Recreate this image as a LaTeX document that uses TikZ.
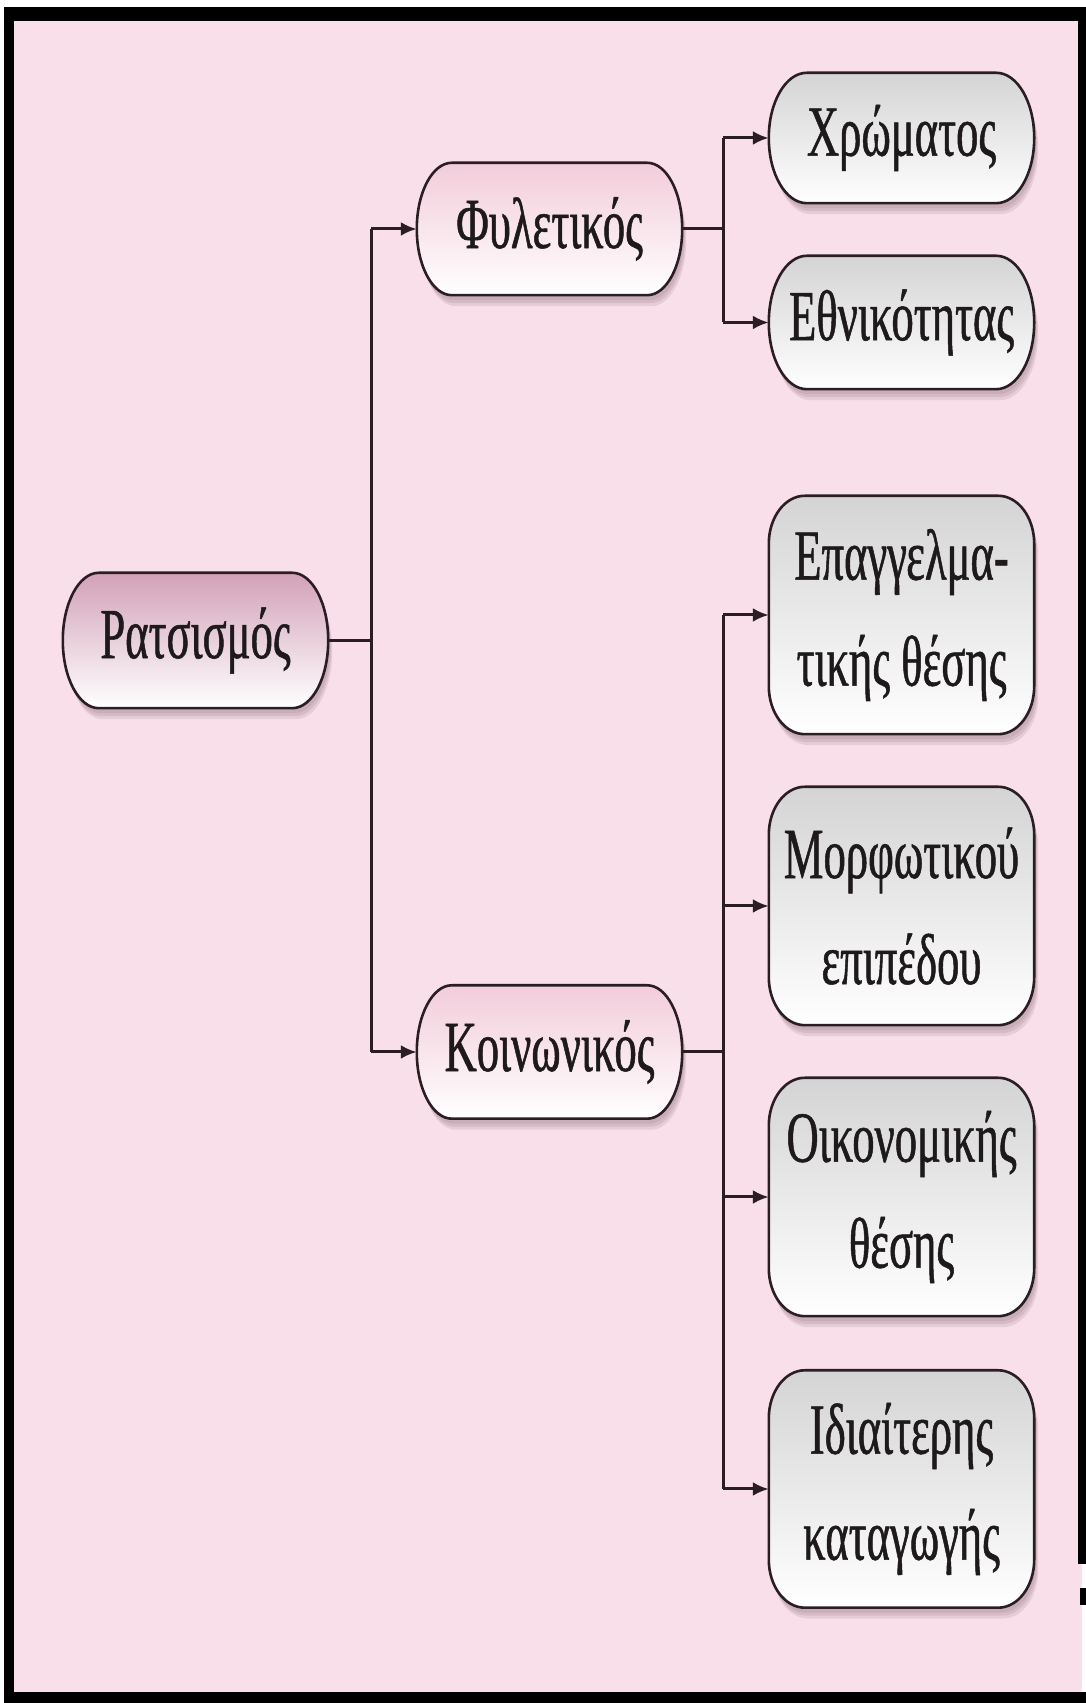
\documentclass[tikz,border=0pt]{standalone}
\usepackage{fontspec}
\setmainfont[FakeStretch=0.62,FakeBold=0.7]{Liberation Serif}
\usetikzlibrary{arrows.meta,calc}
\pgfdeclarelayer{bg}
\pgfdeclarelayer{shapes}
\pgfsetlayers{bg,shapes,main}

\definecolor{pinkbg}{HTML}{F8DFE9}
\definecolor{ink}{HTML}{2A1E24}
\definecolor{txt}{HTML}{1E1A1C}
\definecolor{rootTop}{HTML}{D2A1B8}
\definecolor{midTop}{HTML}{F2CCDA}
\definecolor{leafTop}{HTML}{D4D4D4}
\definecolor{shadowc}{HTML}{7A5A6A}

\tikzset{
  tnode/.style={rectangle, inner sep=0pt, minimum width=265pt, text=txt,
    font=\fontsize{72}{106}\selectfont, align=center},
  conn/.style={draw=ink, line width=3pt},
  arr/.style={conn, -{Latex[length=16pt,width=14pt]}},
  outline/.style={draw=ink, line width=2.6pt},
  softshadow/.style={fill=shadowc, opacity=0.14},
}

\newcommand\pillpath[3]{%
  ([xshift=#2pt]#1.north west) -- ([xshift=-#2pt]#1.north east)
  arc[start angle=90,end angle=0,x radius=#2pt,y radius=#3pt]
  -- ([yshift=#3pt]#1.south east)
  arc[start angle=0,end angle=-90,x radius=#2pt,y radius=#3pt]
  -- ([xshift=#2pt]#1.south west)
  arc[start angle=270,end angle=180,x radius=#2pt,y radius=#3pt]
  -- ([yshift=-#3pt]#1.north west)
  arc[start angle=180,end angle=90,x radius=#2pt,y radius=#3pt] -- cycle}

\newcommand\drawpill[5]{% node, rx, ry, top colour, middle colour
  \fill[softshadow, transform canvas={xshift=2pt,yshift=-5pt}] \pillpath{#1}{#2}{#3};
  \fill[softshadow, transform canvas={xshift=3pt,yshift=-8pt}] \pillpath{#1}{#2}{#3};
  \fill[softshadow, transform canvas={xshift=4pt,yshift=-11pt}] \pillpath{#1}{#2}{#3};
  \path[outline, top color=#4, middle color=#5, bottom color=white] \pillpath{#1}{#2}{#3};
}

\begin{document}
\begin{tikzpicture}[x=1pt,y=1pt]
\useasboundingbox (0,0) rectangle (1086,1703);

% frame
\begin{pgfonlayer}{bg}
  \fill[white] (0,0) rectangle (1086,1703);
  \fill[black] (4,0) rectangle (1086,1696);
  \fill[pinkbg] (14,11) rectangle (1078,1682);
  \fill[pinkbg] (1078,11) rectangle (1082,139);
  \fill[white] (1082,11) rectangle (1086,139);
  \fill[black] (1080,98) rectangle (1086,115);
\end{pgfonlayer}

% nodes
\node[tnode, minimum height=135pt] (root) at (195.5,1062.5) {Ρατσισμός};
\node[tnode, minimum height=132pt] (fyl) at (549.5,1474) {Φυλετικός};
\node[tnode, minimum height=133pt] (koi) at (549.5,651) {Κοινωνικός};
\node[tnode, minimum height=130pt] (l1) at (901.5,1565) {Χρώματος};
\node[tnode, minimum height=133pt] (l2) at (901.5,1380.5) {Εθνικότητας};
\node[tnode, minimum height=238pt] (l3) at (901.5,1088) {Επαγγελμα-\\τικής θέσης};
\node[tnode, minimum height=238pt] (l4) at (901.5,797) {Μορφωτικού\\επιπέδου};
\node[tnode, minimum height=238pt] (l5) at (901.5,506) {Οικονομικής\\θέσης};
\node[tnode, minimum height=237pt] (l6) at (901.5,214) {Ιδιαίτερης\\καταγωγής};

% node outlines
\begin{pgfonlayer}{shapes}
  \drawpill{root}{36}{67.5}{rootTop}{rootTop!55!white}
  \drawpill{fyl}{35}{66}{midTop}{midTop!45!white}
  \drawpill{koi}{35}{66.5}{midTop}{midTop!45!white}
  \drawpill{l1}{38}{65}{leafTop}{leafTop!45!white}
  \drawpill{l2}{38}{66.5}{leafTop}{leafTop!45!white}
  \drawpill{l3}{36}{48}{leafTop}{leafTop!45!white}
  \drawpill{l4}{36}{48}{leafTop}{leafTop!45!white}
  \drawpill{l5}{36}{48}{leafTop}{leafTop!45!white}
  \drawpill{l6}{36}{48}{leafTop}{leafTop!45!white}
\end{pgfonlayer}

% connectors
\coordinate (tx) at (371,0);
\coordinate (bx) at (723,0);
\draw[conn] (root.east) -- (root.east -| tx);
\draw[conn] (tx |- fyl.west) -- (tx |- koi.west);
\draw[arr] (tx |- fyl.west) -- (fyl.west);
\draw[arr] (tx |- koi.west) -- (koi.west);

\draw[conn] (fyl.east) -- (fyl.east -| bx);
\draw[conn] (bx |- l1.west) -- (bx |- l2.west);
\draw[arr] (bx |- l1.west) -- (l1.west);
\draw[arr] (bx |- l2.west) -- (l2.west);

\draw[conn] (koi.east) -- (koi.east -| bx);
\draw[conn] (bx |- l3.west) -- (bx |- l6.west);
\draw[arr] (bx |- l3.west) -- (l3.west);
\draw[arr] (bx |- l4.west) -- (l4.west);
\draw[arr] (bx |- l5.west) -- (l5.west);
\draw[arr] (bx |- l6.west) -- (l6.west);
\end{tikzpicture}
\end{document}
